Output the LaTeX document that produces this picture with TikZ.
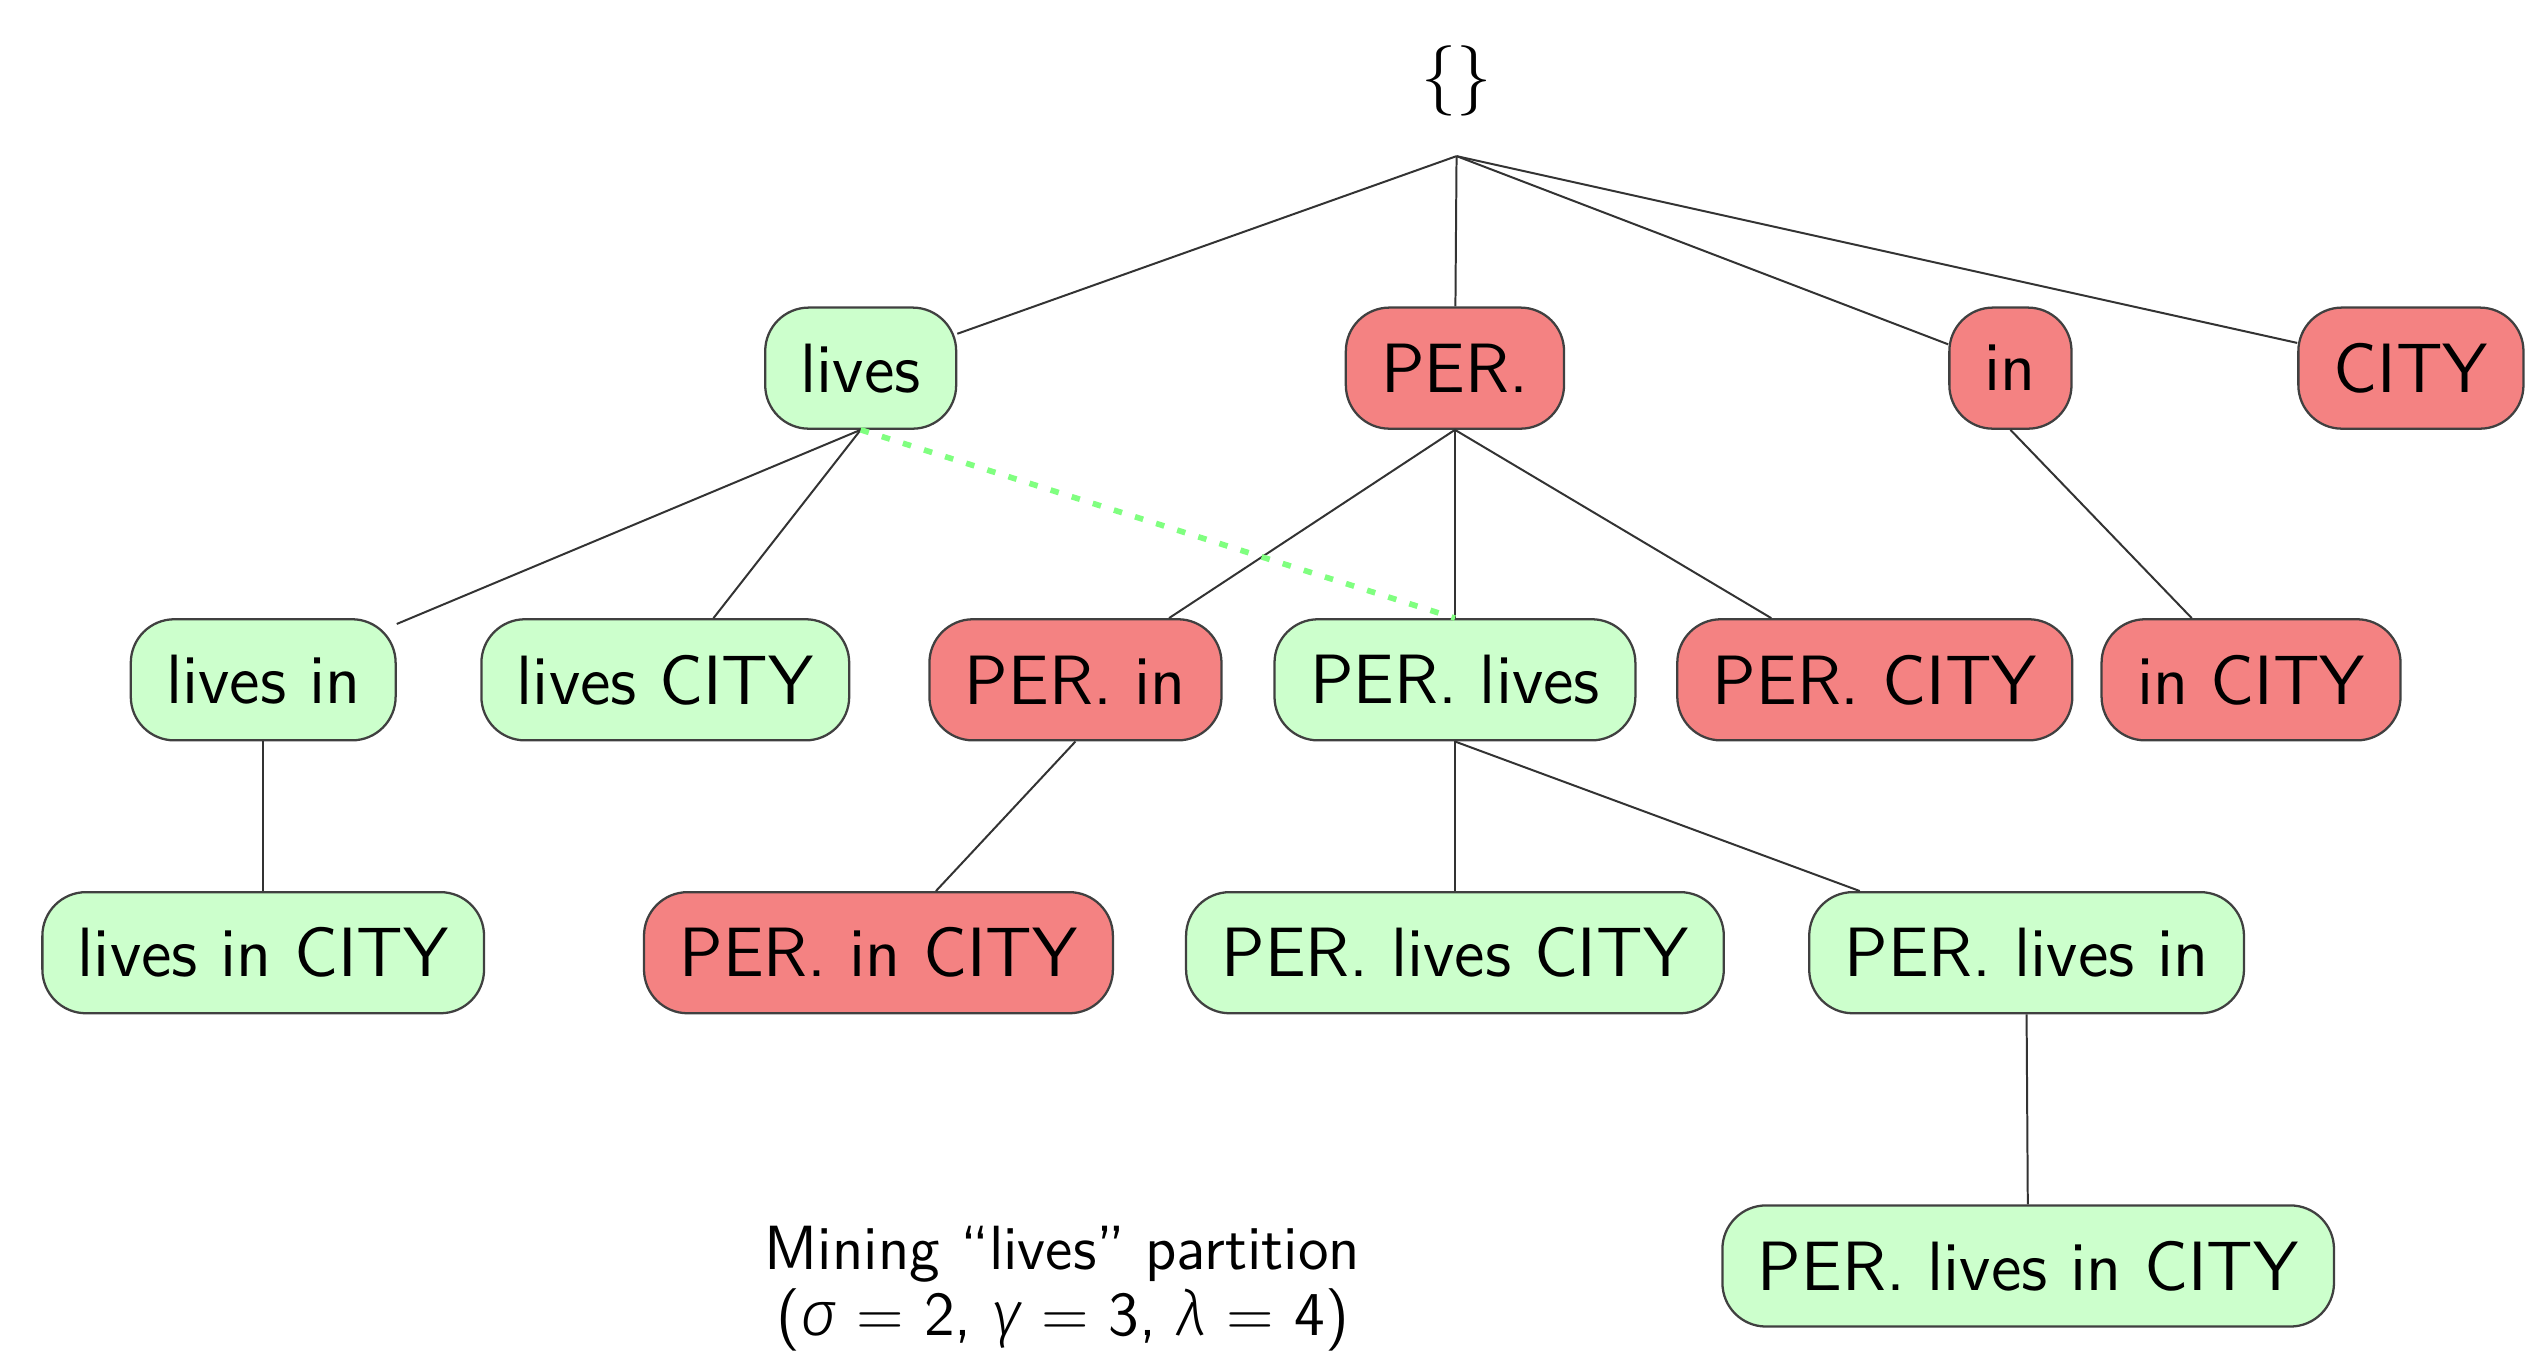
\documentclass[tikz,border=0pt]{standalone}
\usepackage{fontspec}
\renewcommand{\familydefault}{\sfdefault}
\newfontfamily\greekit{Fira Sans Light}[ItalicFont=* Italic]
\newcommand{\gk}[1]{{\greekit\itshape #1}}
\definecolor{freqgreen}{RGB}{204,255,204}
\definecolor{infreqred}{RGB}{244,130,130}
\definecolor{linkgreen}{RGB}{128,255,128}
\tikzset{
  seq/.style={draw=black!75, line width=0.4pt, rounded corners=0.27cm,
    minimum height=0.75cm, inner xsep=0.22cm, inner ysep=0pt,
    font=\fontsize{12.3}{15}\selectfont},
  freq/.style={seq, fill=freqgreen},
  infreq/.style={seq, fill=infreqred},
  tedge/.style={draw=black!80, line width=0.35pt}
}

\begin{document}
\begin{tikzpicture}
\useasboundingbox (0,0) rectangle (15.68,8.41);
\node[minimum height=0.92cm, inner sep=0pt, font=\fontsize{12.4}{15}\selectfont] (root) at (9.02,7.91) {\{\}};
\node[freq] (lives) at (5.33,6.13) {lives};
\node[infreq] (per) at (9.01,6.13) {PER.};
\node[infreq] (in) at (12.45,6.13) {in};
\node[infreq] (city) at (14.93,6.13) {CITY};
\node[freq] (livesin) at (1.63,4.20) {lives in};
\node[freq] (livescity) at (4.12,4.20) {lives CITY};
\node[infreq] (perin) at (6.66,4.20) {PER. in};
\node[freq] (perlives) at (9.01,4.20) {PER. lives};
\node[infreq] (percity) at (11.61,4.20) {PER. CITY};
\node[infreq] (incity) at (13.94,4.20) {in CITY};
\node[freq] (livesincity) at (1.63,2.51) {lives in CITY};
\node[infreq] (perincity) at (5.44,2.51) {PER. in CITY};
\node[freq] (perlivescity) at (9.01,2.51) {PER. lives CITY};
\node[freq] (perlivesin) at (12.55,2.51) {PER. lives in};
\node[freq] (perlivesincity) at (12.56,0.57) {PER. lives in CITY};
\node[align=center, font=\fontsize{11}{11.6}\selectfont] (caption) at (6.58,0.43)
  {Mining “lives” partition\\(\gk{σ} = 2, \gk{γ} = 3, \gk{λ} = 4)};

\foreach \c in {lives,per,in,city}
  \draw[tedge] (root.south) -- (\c);
\foreach \p/\c in {lives/livesin, lives/livescity, per/perin, per/perlives, per/percity,
    in/incity, livesin/livesincity, perin/perincity, perlives/perlivescity,
    perlives/perlivesin, perlivesin/perlivesincity}
  \draw[tedge] (\p.south) -- (\c);
\draw[linkgreen, line width=1pt, dash pattern=on 1.5pt off 2.4pt] (lives.south) -- (perlives.north);
\end{tikzpicture}
\end{document}
